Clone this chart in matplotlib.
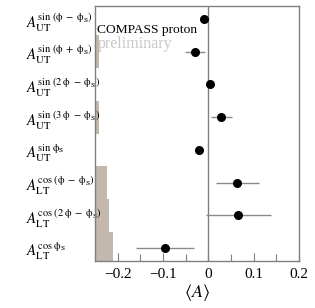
import matplotlib
matplotlib.use("Agg")
import matplotlib.pyplot as plt
import numpy as np

plt.rcParams['font.family'] = ['Liberation Serif', 'DejaVu Serif']
plt.rcParams['mathtext.fontset'] = 'stix'

P = r'\mathrm{ϕ}'
S = r'\mathrm{ϕ}_{\mathrm{S}}'
M = r'\;-\;'
PL = r'\;+\;'
labels = [
    r'$A_{\mathrm{UT}}^{\mathrm{sin}\;(' + P + M + S + ')}$',
    r'$A_{\mathrm{UT}}^{\mathrm{sin}\;(' + P + PL + S + ')}$',
    r'$A_{\mathrm{UT}}^{\mathrm{sin}\;(2\;' + P + M + S + ')}$',
    r'$A_{\mathrm{UT}}^{\mathrm{sin}\;(3\;' + P + M + S + ')}$',
    r'$A_{\mathrm{UT}}^{\mathrm{sin}\;' + S + '}$',
    r'$A_{\mathrm{LT}}^{\mathrm{cos}\;(' + P + M + S + ')}$',
    r'$A_{\mathrm{LT}}^{\mathrm{cos}\;(2\;' + P + M + S + ')}$',
    r'$A_{\mathrm{LT}}^{\mathrm{cos}\;' + S + '}$',
]
values = [-0.009, -0.029, 0.004, 0.029, -0.020, 0.064, 0.066, -0.095]
stat_err = [0.004, 0.022, 0.003, 0.024, 0.003, 0.048, 0.072, 0.064]
sys_err = [0.001, 0.009, 0.001, 0.009, 0.001, 0.027, 0.031, 0.040]
xticks = [-0.2, -0.1, 0, 0.1, 0.2]
xticklabels = ['\u22120.2', '\u22120.1', '0', '0.1', '0.2']

xmin, xmax = -0.25, 0.2

fig = plt.figure(figsize=(3.15, 3.08), dpi=100)
ax = fig.add_axes([95/315, 1-261/308, (299-95)/315, (261-6)/308])

rows = np.arange(len(labels))
ax.barh(rows, sys_err, height=1.0, left=xmin, color='#c2b8ad', linewidth=0, zorder=1)
ax.axvline(0, color='#808080', lw=1.0, zorder=2)
ax.errorbar(values, rows, xerr=stat_err, fmt='o', color='black', ms=5.5,
            ecolor='#8a8a8a', elinewidth=1.0, capsize=0, zorder=3)

ax.set_xlim(xmin, xmax)
ax.set_ylim(len(labels) - 0.6, -0.4)
ax.set_xticks(xticks)
ax.set_xticklabels(xticklabels, fontsize=11)
ax.set_xticks([-0.15, -0.05, 0.05, 0.15], minor=True)
ax.tick_params(axis='x', which='major', direction='in', length=6, width=0.8,
               color='#808080', pad=5)
ax.tick_params(axis='x', which='minor', direction='in', length=5, width=0.8,
               color='#808080')
ax.set_yticks(rows)
ax.set_yticklabels(labels, fontsize=10.8)
ax.tick_params(axis='y', length=0, pad=50)
for t in ax.get_yticklabels():
    t.set_horizontalalignment('left')

for s in ax.spines.values():
    s.set_color('#808080')
    s.set_linewidth(1.0)

ax.set_xlabel(r'$\langle A\rangle$', fontsize=13, labelpad=1)

ax.text(0.012, 0.895, 'COMPASS proton', transform=ax.transAxes, fontsize=9.7,
        color='black', ha='left', va='baseline')
ax.text(0.012, 0.837, 'preliminary', transform=ax.transAxes, fontsize=11.5,
        color='#c8c8c8', ha='left', va='baseline')

fig.savefig('out.png', dpi=100)
